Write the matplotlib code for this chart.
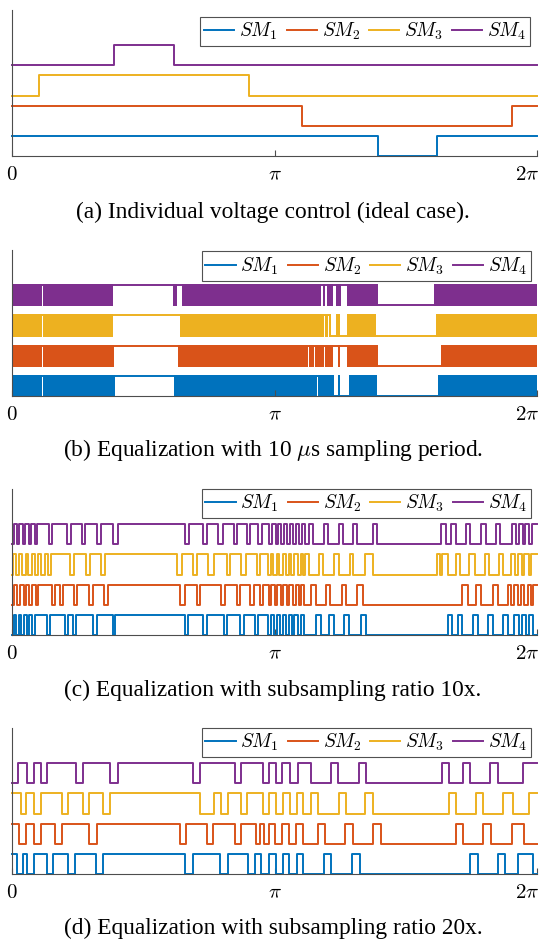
import numpy as np
import matplotlib
matplotlib.use('Agg')
import matplotlib.pyplot as plt
import matplotlib.transforms as mtransforms
from matplotlib.lines import Line2D

plt.rcParams['mathtext.fontset'] = 'cm'

# switching states of the four submodules over one period (fractions of 2*pi)
labels = [r'$SM_1$', r'$SM_2$', r'$SM_3$', r'$SM_4$']
colors = ['#0072BD', '#D95319', '#EDB120', '#7E2F8E']
offsets = [0, 1.5, 3, 4.5]
tick_labels = [r'$0$', r'$\pi$', r'$2\pi$']

# (a) ideal case: initial state + toggle instants
a_start = [1, 1, 0, 0]
a_sm1 = [0.698, 0.810]
a_sm2 = [0.553, 0.953]
a_sm3 = [0.052, 0.452]
a_sm4 = [0.195, 0.309]

# (b) 10 us sampling: segment edges and mode ('sw' = fast switching, 1 = high, 0 = low)
b_sm1_edges = [0, .057, .059, .196, .309, .580, .582, .614, .620, .625, .641, .695, .811, 1]
b_sm1_modes = ['sw', 1, 'sw', 1, 'sw', 1, 'sw', 0, 'sw', 0, 'sw', 0, 'sw']
b_sm2_edges = [0, .057, .059, .195, .317, .563, .565, .575, .577, .595, .597, .611, .620, .625, .639, .697, .817, 1]
b_sm2_modes = ['sw', 1, 'sw', 1, 'sw', 1, 'sw', 1, 'sw', 1, 'sw', 1, 'sw', 1, 'sw', 0, 'sw']
b_sm3_edges = [0, .057, .059, .193, .320, .595, .597, .602, .604, .608, .617, .625, .639, .693, .808, 1]
b_sm3_modes = ['sw', 1, 'sw', 1, 'sw', 1, 'sw', 1, 'sw', 0, 'sw', 0, 'sw', 0, 'sw']
b_sm4_edges = [0, .057, .059, .193, .307, .314, .323, .589, .592, .597, .600, .611, .617, .627, .639, .697, .804, 1]
b_sm4_modes = ['sw', 1, 'sw', 1, 'sw', 1, 'sw', 1, 'sw', 1, 'sw', 1, 'sw', 1, 'sw', 0, 'sw']

# (c) subsampling 10x
c_start = [0, 0, 0, 0]
c_sm1 = [.003, .008, .013, .018, .023, .028, .033, .038, .043, .066, .072, .101, .107, .117, .122, .155, .161,
         .193, .196, .330, .336, .364, .371, .403, .410, .434, .441, .463, .469,
         .488, .493, .499, .504, .511, .516, .522, .527, .533, .538, .545, .550, .556, .579, .588, .604, .614,
         .633, .641, .665, .674, .830, .838, .849, .858, .879, .887, .906, .916, .935, .944, .957, .965, .971,
         .979, .984, .992]
c_sm2 = [.004, .010, .016, .022, .027, .033, .039, .045, .050, .076, .082, .091, .098, .118, .124, .147, .154,
         .175, .182, .320, .330, .352, .358, .399, .406, .428, .434, .453, .460, .472, .479,
         .489, .494, .500, .505, .512, .517, .523, .528, .535, .540, .546, .551, .557, .569, .579, .598, .606,
         .629, .636, .657, .668, .858, .868, .884, .893, .916, .925, .944, .950, .957, .963, .970, .976, .982,
         .989, .992]
c_sm3 = [.002, .007, .013, .019, .026, .031, .038, .044, .050, .056, .062, .068, .074, .110, .118, .141, .149,
         .169, .178, .314, .323, .345, .352, .374, .384, .409, .415, .437, .446, .466, .472,
         .487, .493, .498, .504, .509, .516, .521, .527, .532, .538, .544, .550, .555, .559, .566, .585, .593,
         .614, .622, .643, .650, .673, .688, .809, .815, .820, .830, .846, .853, .871, .881, .900, .908, .928,
         .936, .951, .959, .963, .971, .976, .984, .989]
c_sm4 = [.003, .009, .014, .020, .025, .032, .037, .043, .048, .071, .077, .104, .112, .133, .139, .161, .169,
         .193, .201, .330, .337, .364, .371, .393, .401, .422, .429, .447, .453, .469, .476,
         .490, .495, .502, .507, .513, .518, .524, .530, .536, .541, .547, .552, .559, .565, .573, .595, .601,
         .622, .630, .650, .658, .687, .695, .817, .827, .836, .846, .865, .872, .893, .902, .922, .930, .952,
         .960, .965, .973, .978, .985, .990]

# (d) subsampling 20x
d_start = [1, 1, 1, 0]
d_sm1 = [.010, .020, .028, .041, .066, .079, .107, .120, .160, .173, .330, .344, .396, .411, .450, .463, .475,
         .489, .502, .516, .528, .542, .555, .595, .608, .648, .662, .872, .887, .925, .940, .963, .992]
d_sm2 = [.014, .027, .041, .055, .082, .095, .147, .161, .320, .331, .371, .383, .425, .437, .465, .472, .480,
         .489, .500, .514, .528, .541, .555, .582, .597, .635, .650, .688, .703, .846, .860, .898, .912, .952, .976]
d_sm3 = [.017, .027, .041, .055, .095, .107, .135, .147, .174, .187, .358, .384, .399, .412, .437, .447, .479,
         .489, .502, .516, .530, .542, .555, .569, .582, .622, .636, .673, .688, .832, .846, .884, .898, .936,
         .954, .985]
d_sm4 = [.012, .028, .041, .055, .067, .122, .135, .187, .201, .345, .358, .425, .437, .479,
         .489, .503, .515, .529, .544, .569, .607, .621, .661, .674, .819, .833, .859, .873, .911, .926, .974]

captions = ['(a) Individual voltage control (ideal case).',
            r'(b) Equalization with 10 $\mu$s sampling period.',
            '(c) Equalization with subsampling ratio 10x.',
            '(d) Equalization with subsampling ratio 20x.']

LW = 1.4
TWO_PI = 2 * np.pi
YMAX = 7.25


def step_signal(ax, toggles, start, off, color):
    x = [0] + list(toggles) + [1]
    y = [start]
    s = start
    for _ in toggles:
        s = 1 - s
        y.append(s)
    y.append(s)
    ax.plot(np.array(x) * TWO_PI, np.array(y) + off, drawstyle='steps-post',
            color=color, lw=LW, clip_on=False)


def switching_signal(ax, edges, modes, off, color):
    # half line width in data units, so the filled bands match the line thickness
    pad = (LW / 2) / 72 * fig.dpi / (ax.get_position().height * fig.bbox.height) * YMAX
    for i, m in enumerate(modes):
        x0, x1 = edges[i] * TWO_PI, edges[i + 1] * TWO_PI
        if m == 'sw':
            ax.fill_between([x0, x1], off - pad, off + 1 + pad, facecolor=color,
                            lw=0, clip_on=False)
        else:
            ax.plot([x0, x1], [off + m, off + m], color=color, lw=LW, clip_on=False)


def style_axes(ax, leg_anchor):
    ax.set_xlim(0, TWO_PI)
    ax.set_ylim(0, YMAX)
    ax.set_xticks([0, np.pi, TWO_PI])
    ax.set_xticklabels(tick_labels, fontsize=15)
    ax.set_yticks([])
    for side in ['top', 'right']:
        ax.spines[side].set_visible(False)
    for side in ['left', 'bottom']:
        ax.spines[side].set_color('#4d4d4d')
        ax.spines[side].set_linewidth(0.8)
    ax.tick_params(axis='x', direction='in', length=4, width=0.8, color='#4d4d4d', pad=6)
    handles = [Line2D([], [], color=c, lw=LW) for c in colors]
    leg = ax.legend(handles, labels, ncol=4, loc='upper right', bbox_to_anchor=leg_anchor,
                    fontsize=14, frameon=True, fancybox=False, edgecolor='#262626',
                    handlelength=1.55, handletextpad=0.25, columnspacing=0.45,
                    borderpad=0.2, borderaxespad=0)
    leg.get_frame().set_linewidth(0.8)


fig = plt.figure(figsize=(5.46, 9.41), dpi=100)
W, H = 546.0, 941.0
axes_top = [10, 250, 489, 728]
axes_h = 146
caption_y = [212, 450, 690, 928]
leg_anchor = [(0.987, 0.955), (0.989, 0.99), (0.989, 1.0), (0.989, 1.0)]

axs = []
for k in range(4):
    ax = fig.add_axes([12 / W, 1 - (axes_top[k] + axes_h) / H, 525 / W, axes_h / H])
    axs.append(ax)

for sig, st, off, c in zip([a_sm1, a_sm2, a_sm3, a_sm4], a_start, offsets, colors):
    step_signal(axs[0], sig, st, off, c)

b_edges = [b_sm1_edges, b_sm2_edges, b_sm3_edges, b_sm4_edges]
b_modes = [b_sm1_modes, b_sm2_modes, b_sm3_modes, b_sm4_modes]
for e, m, off, c in zip(b_edges, b_modes, offsets, colors):
    switching_signal(axs[1], e, m, off, c)

for sig, st, off, c in zip([c_sm1, c_sm2, c_sm3, c_sm4], c_start, offsets, colors):
    step_signal(axs[2], sig, st, off, c)

for sig, st, off, c in zip([d_sm1, d_sm2, d_sm3, d_sm4], d_start, offsets, colors):
    step_signal(axs[3], sig, st, off, c)

for k, ax in enumerate(axs):
    style_axes(ax, leg_anchor[k])
    fig.text(0.5, 1 - caption_y[k] / H, captions[k], ha='center', va='center',
             fontsize=16.8, family='Liberation Serif')

# keep the 2*pi tick label inside the canvas
fig.canvas.draw()
shift = mtransforms.ScaledTranslation(-7 / 72, 0, fig.dpi_scale_trans)
for ax in axs:
    lab = ax.xaxis.get_major_ticks()[2].label1
    lab.set_transform(lab.get_transform() + shift)

fig.savefig('out.png', dpi=100)
